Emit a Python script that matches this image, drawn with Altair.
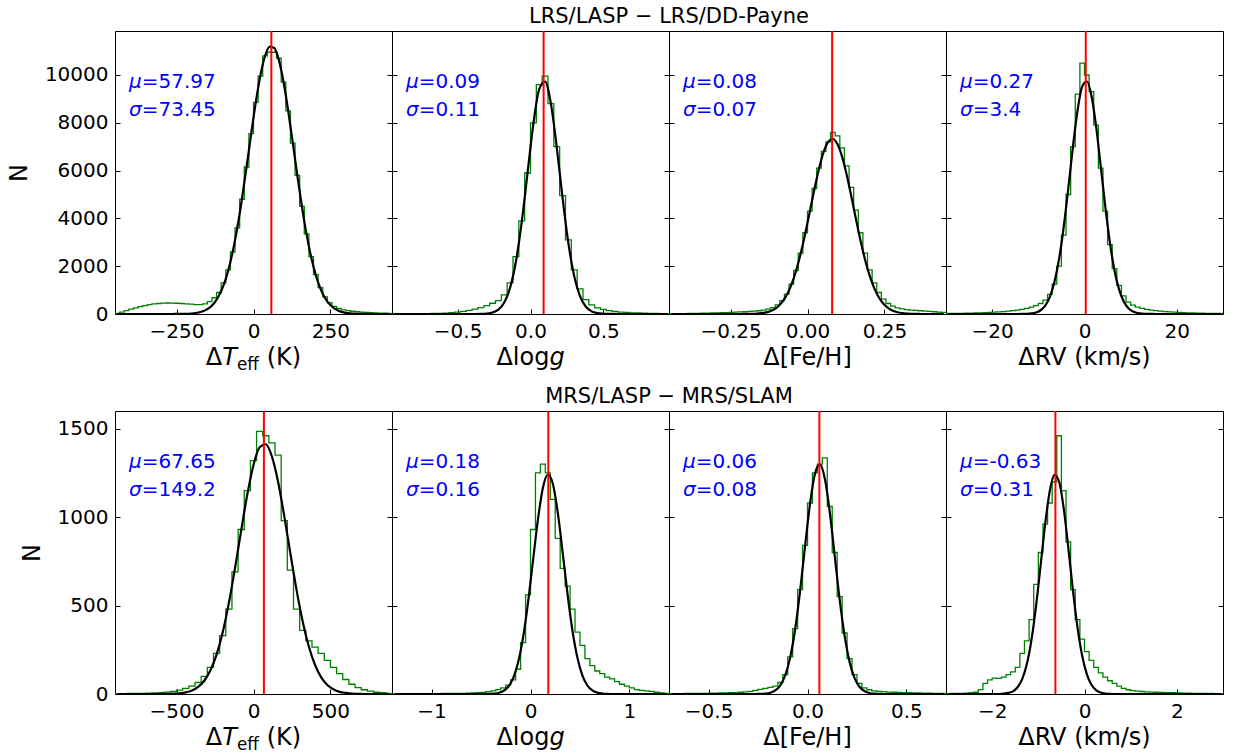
import altair as alt
import pandas as pd

FONT = "DejaVu Sans"
W, H = 277, 283
GREEN, RED, BLUE = "#008000", "#ff0000", "#0000ff"

ROW_TITLES = ["LRS/LASP \u2212 LRS/DD-Payne", "MRS/LASP \u2212 MRS/SLAM"]
Y_MAX = [11840, 1600]
Y_TICKS = [[0, 2000, 4000, 6000, 8000, 10000], [0, 500, 1000, 1500]]

# ---------------- top row: LRS ----------------
# Teff
T1_LO, T1_W = -450, 15
T1_COUNTS = [20, 80, 140, 200, 260, 310, 350, 390, 420, 440,
             455, 460, 455, 450, 440, 425, 410, 395, 390, 420,
             520, 680, 900, 1300, 1850, 2600, 3600, 4800, 6150, 7550,
             8850, 9950, 10800, 10950, 10950, 10700, 9700, 8500, 7150, 5800,
             4500, 3350, 2400, 1650, 1100, 720, 470, 320, 230, 175,
             140, 115, 95, 80, 65, 55, 45, 40, 35, 30]
T1_FIT = [0, 0, 0, 0, 0, 0, 0, 0, 0, 0,
          0, 0, 1, 2, 5, 10, 21, 42, 82, 152,
          270, 462, 759, 1194, 1802, 2607, 3620, 4820, 6157, 7542,
          8862, 9988, 10797, 11190, 11130, 10620, 9714, 8524, 7174, 5792,
          4484, 3330, 2372, 1621, 1062, 668, 403, 233, 129, 69,
          35, 17, 8, 4, 2, 1, 0, 0, 0, 0]
# logg
T2_LO, T2_W = -0.96, 0.04
T2_COUNTS = [5, 5, 6, 8, 10, 12, 15, 20, 28, 38,
             55, 80, 110, 150, 200, 270, 350, 450, 560, 800,
             1300, 2400, 3900, 5900, 8000, 9600, 9950, 8800, 7000, 4950,
             3100, 1850, 1050, 600, 380, 260, 190, 140, 105, 80,
             62, 50, 42, 35, 28, 22, 16, 12]
T2_FIT = [0, 0, 0, 0, 0, 0, 0, 0, 0, 0,
          0, 0, 0, 0, 1, 5, 18, 62, 184, 480,
          1097, 2195, 3851, 5920, 7971, 9404, 9720, 8802, 6983, 4855,
          2957, 1578, 738, 302, 108, 34, 10, 2, 0, 0,
          0, 0, 0, 0, 0, 0, 0, 0]
# [Fe/H]
T3_LO, T3_W = -0.45, 0.015
T3_COUNTS = [10, 12, 15, 18, 22, 26, 30, 35, 40, 45,
             50, 55, 60, 67, 75, 85, 95, 108, 120, 135,
             160, 200, 270, 380, 560, 830, 1250, 1820, 2550, 3400,
             4300, 5250, 6100, 6800, 7200, 7600, 7450, 6950, 6200, 5300,
             4350, 3400, 2550, 1850, 1300, 900, 620, 440, 330, 260,
             215, 185, 165, 150, 135, 120, 110, 95, 80, 70]
T3_FIT = [0, 0, 0, 0, 0, 0, 0, 0, 0, 0,
          0, 0, 0, 0, 0, 1, 2, 5, 11, 23,
          47, 90, 167, 294, 494, 795, 1221, 1790, 2506, 3353,
          4283, 5226, 6090, 6778, 7206, 7322, 7097, 6574, 5817, 4915,
          3967, 3058, 2252, 1584, 1064, 682, 418, 245, 137, 73,
          37, 18, 8, 3, 1, 0, 0, 0, 0, 0]
# RV
T4_LO, T4_W = -30, 1
T4_COUNTS = [20, 22, 25, 28, 32, 38, 44, 50, 58, 66,
             75, 86, 100, 118, 140, 165, 195, 235, 285, 350,
             440, 580, 820, 1250, 2000, 3300, 5000, 7000, 9200, 10500,
             10000, 9300, 7900, 6100, 4300, 2900, 1900, 1200, 760, 500,
             370, 290, 235, 195, 165, 140, 120, 102, 88, 76,
             66, 58, 50, 44, 38, 33, 29, 25, 22, 20]
T4_FIT = [0, 0, 0, 0, 0, 0, 0, 0, 0, 0,
          0, 0, 0, 0, 0, 0, 3, 8, 24, 65,
          157, 350, 717, 1345, 2312, 3649, 5278, 7004, 8523, 9513,
          9738, 9142, 7871, 6216, 4501, 2991, 1821, 1018, 521, 245,
          106, 42, 15, 5, 2, 0, 0, 0, 0, 0,
          0, 0, 0, 0, 0, 0, 0, 0, 0, 0]

# ---------------- bottom row: MRS ----------------
B1_LO, B1_W = -900, 40
B1_COUNTS = [2, 2, 3, 3, 4, 5, 6, 8, 11, 15,
             22, 32, 45, 65, 100, 150, 230, 330, 480, 690,
             930, 1150, 1320, 1485, 1460, 1420, 1350, 980, 700, 480,
             360, 300, 265, 230, 190, 150, 115, 82, 55, 36,
             24, 16, 10, 7, 4]
B1_FIT = [0, 0, 0, 0, 0, 0, 0, 0, 1, 2,
          4, 9, 20, 40, 75, 134, 223, 349, 515, 712,
          925, 1129, 1295, 1395, 1412, 1342, 1199, 1006, 793, 587,
          408, 267, 164, 94, 51, 26, 12, 6, 2, 1,
          0, 0, 0, 0, 0]
B2_LO, B2_W = -1.4, 0.05
B2_COUNTS = [1, 1, 1, 1, 1, 1, 2, 2, 2, 2,
             3, 3, 3, 4, 4, 5, 6, 7, 9, 13,
             18, 25, 35, 50, 80, 140, 290, 560, 930, 1250,
             1300, 1250, 1100, 880, 710, 610, 480, 350, 275, 200,
             160, 130, 115, 95, 85, 70, 55, 45, 35, 25,
             20, 18, 15, 10, 6, 4]
B2_FIT = [0, 0, 0, 0, 0, 0, 0, 0, 0, 0,
          0, 0, 0, 0, 0, 0, 0, 0, 0, 1,
          2, 6, 17, 41, 90, 179, 320, 517, 752, 986,
          1165, 1240, 1190, 1028, 801, 562, 355, 203, 104, 48,
          20, 8, 3, 1, 0, 0, 0, 0, 0, 0,
          0, 0, 0, 0, 0, 0]
B3_LO, B3_W = -0.7, 0.025
B3_COUNTS = [2, 2, 2, 3, 3, 3, 4, 4, 5, 5,
             6, 6, 7, 8, 10, 12, 15, 20, 26, 32,
             38, 45, 65, 110, 210, 370, 590, 840, 1080, 1250,
             1300, 1335, 1060, 800, 550, 345, 200, 110, 60, 35,
             24, 18, 15, 13, 11, 10, 9, 8, 7, 6,
             6, 5, 5, 4, 4, 3]
B3_FIT = [0, 0, 0, 0, 0, 0, 0, 0, 0, 0,
          0, 0, 0, 0, 0, 0, 0, 0, 1, 2,
          7, 20, 48, 106, 207, 366, 582, 833, 1073, 1244,
          1298, 1218, 1029, 782, 535, 330, 183, 91, 41, 17,
          6, 2, 1, 0, 0, 0, 0, 0, 0, 0,
          0, 0, 0, 0, 0, 0]
B4_LO, B4_W = -3.0, 0.1
B4_COUNTS = [2, 3, 3, 4, 5, 7, 10, 25, 60, 80,
             90, 88, 95, 110, 125, 150, 230, 300, 420, 620,
             800, 960, 1080, 1200, 1460, 1150, 860, 590, 420, 310,
             240, 190, 150, 120, 95, 75, 60, 45, 32, 24,
             19, 16, 14, 12, 11, 10, 9, 8, 8, 7,
             6, 5, 5, 4, 4, 3, 3, 3, 2, 2]
B4_FIT = [0, 0, 0, 0, 0, 0, 0, 0, 0, 0,
          0, 0, 2, 6, 15, 38, 84, 168, 304, 496,
          728, 965, 1151, 1239, 1200, 1049, 825, 585, 374, 216,
          112, 52, 22, 8, 3, 1, 0, 0, 0, 0,
          0, 0, 0, 0, 0, 0, 0, 0, 0, 0,
          0, 0, 0, 0, 0, 0, 0, 0, 0, 0]

MU = [57.97, 0.09, 0.08, 0.27, 67.65, 0.18, 0.06, -0.63]
MU_TXT = ["=57.97", "=0.09", "=0.08", "=0.27", "=67.65", "=0.18", "=0.06", "=-0.63"]
SIG_TXT = ["=73.45", "=0.11", "=0.07", "=3.4", "=149.2", "=0.16", "=0.08", "=0.31"]
X_DOM = [[-450, 450], [-0.95, 0.95], [-0.45, 0.45], [-30, 30],
         [-900, 900], [-1.4, 1.4], [-0.7, 0.7], [-3, 3]]
X_TICKS = [[-250, 0, 250], [-0.5, 0, 0.5], [-0.25, 0, 0.25], [-20, 0, 20],
           [-500, 0, 500], [-1, 0, 1], [-0.5, 0, 0.5], [-2, 0, 2]]
X_FMT = ["d", ".1f", ".2f", "d", "d", "d", ".1f", "d"]
X_KIND = ["teff", "logg", "feh", "rv"] * 2

HISTS = [(T1_LO, T1_W, T1_COUNTS, T1_FIT), (T2_LO, T2_W, T2_COUNTS, T2_FIT),
         (T3_LO, T3_W, T3_COUNTS, T3_FIT), (T4_LO, T4_W, T4_COUNTS, T4_FIT),
         (B1_LO, B1_W, B1_COUNTS, B1_FIT), (B2_LO, B2_W, B2_COUNTS, B2_FIT),
         (B3_LO, B3_W, B3_COUNTS, B3_FIT), (B4_LO, B4_W, B4_COUNTS, B4_FIT)]

ONE = pd.DataFrame({"d": [0]})


def txt(s, x, y, size, color="black", italic=False, align="left"):
    return alt.Chart(ONE).mark_text(
        text=s, font=FONT, fontSize=size, color=color,
        fontStyle="italic" if italic else "normal",
        align=align, baseline="alphabetic",
    ).encode(x=alt.value(x), y=alt.value(y))


def xlabel(kind):
    yb = H + 50.5
    if kind == "teff":
        x0 = W / 2 - 47.7
        return [txt("\u0394", x0, yb, 24), txt("T", x0 + 16.4, yb, 24, italic=True),
                txt("eff", x0 + 31.1, yb + 5, 16.8), txt("(K)", x0 + 60.9, yb, 24)]
    if kind == "logg":
        x0 = W / 2 - 34.1
        return [txt("\u0394log", x0, yb, 24), txt("g", x0 + 53.0, yb, 24, italic=True)]
    if kind == "feh":
        return [txt("\u0394[Fe/H]", W / 2, yb, 24, align="center")]
    return [txt("\u0394RV (km/s)", W / 2, yb, 24, align="center")]


def panel(i):
    row, col = divmod(i, 4)
    lo, w, counts, fit = HISTS[i]
    n = len(counts)
    edges = [lo + w * k for k in range(n + 1)]
    centres = [lo + w * (k + 0.5) for k in range(n)]
    hist_df = pd.DataFrame({"x": edges, "y": counts + [counts[-1]]})
    fit_df = pd.DataFrame({"x": centres, "y": fit})
    mu_df = pd.DataFrame({"x": [MU[i]]})

    xs = alt.Scale(domain=X_DOM[i], nice=False, zero=False)
    ys = alt.Scale(domain=[0, Y_MAX[row]], nice=False)
    xaxis = alt.Axis(values=X_TICKS[i], format=X_FMT[i], orient="bottom", offset=-5,
                     tickSize=5, tickColor="black", labelFontSize=20, labelPadding=7,
                     labelColor="black", labelFont=FONT, labelOverlap=False,
                     labelFlush=False, domain=False, grid=False, title=None)
    first = col == 0
    if first:
        yleft = alt.Axis(values=Y_TICKS[row], format="d", orient="left", offset=-5,
                         tickSize=5, tickColor="black", labelFontSize=20, labelPadding=7,
                         labelColor="black", labelFont=FONT, domain=False, grid=False,
                         title="N", titleFontSize=24, titleFontWeight="normal",
                         titleFont=FONT, titleColor="black", titlePadding=13)
    else:
        yleft = alt.Axis(values=Y_TICKS[row], orient="left", offset=-5, tickSize=5,
                         tickColor="black", labels=False, domain=False, grid=False,
                         title=None)
    yright = alt.Axis(values=Y_TICKS[row], orient="right", offset=-5, tickSize=5,
                      tickColor="black", labels=False, domain=False, grid=False, title=None)

    hist = alt.Chart(hist_df).mark_line(
        interpolate="step-after", color=GREEN, strokeWidth=1.3, clip=True
    ).encode(x=alt.X("x:Q", scale=xs, axis=xaxis), y=alt.Y("y:Q", scale=ys, axis=yleft))
    curve = alt.Chart(fit_df).mark_line(
        interpolate="monotone", color="black", strokeWidth=2.2, clip=True
    ).encode(x=alt.X("x:Q", scale=xs, axis=xaxis), y=alt.Y("y:Q", scale=ys, axis=yright))
    rule = alt.Chart(mu_df).mark_rule(color=RED, strokeWidth=2).encode(
        x=alt.X("x:Q", scale=xs, axis=xaxis))

    texts = [
        txt("\u03bc", 14, 57, 20, BLUE, italic=True),
        txt(MU_TXT[i], 26.7, 57, 20, BLUE),
        txt("\u03c3", 14, 85, 20, BLUE, italic=True),
        txt(SIG_TXT[i], 26.7, 85, 20, BLUE),
    ] + xlabel(X_KIND[i])
    if col == 1:
        texts.append(txt(ROW_TITLES[row], W, -8.5, 21, align="center"))

    return alt.layer(hist, curve, rule, *texts).resolve_axis(y="independent").properties(
        width=W, height=H)


chart = alt.concat(*[panel(i) for i in range(8)], columns=4,
                   spacing={"row": 97, "column": 0}, bounds="flush").properties(
    padding={"left": 6, "top": 5, "right": 5, "bottom": 5}
).configure(font=FONT).configure_view(stroke="black", strokeWidth=1)

chart.save("out.html", embed_options={"renderer": "svg", "actions": False})
